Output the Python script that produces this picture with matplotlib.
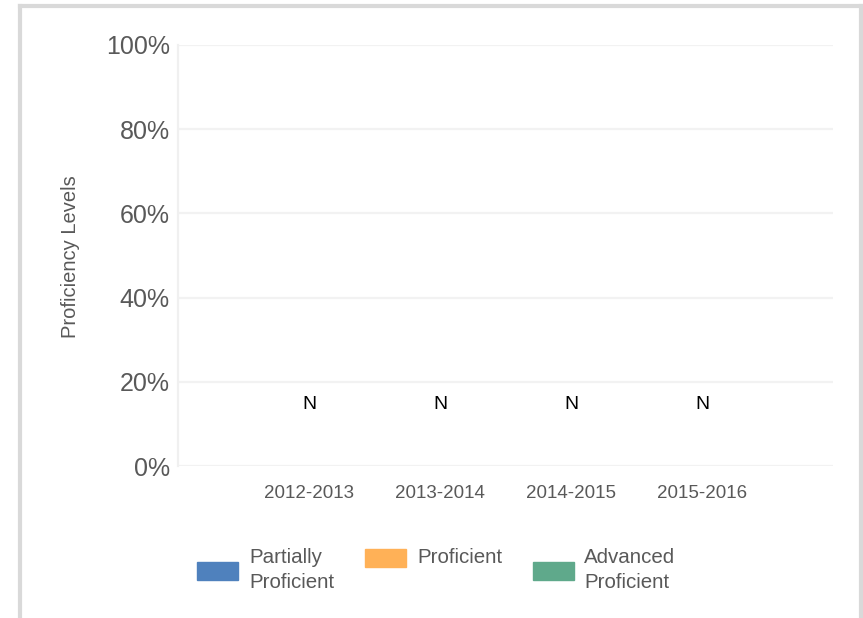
import numpy as np
import matplotlib.pyplot as plt
from matplotlib.lines import Line2D
from matplotlib.patches import Rectangle

plt.rcParams["font.family"] = ["Liberation Sans", "DejaVu Sans"]

years = ["2012-2013", "2013-2014", "2014-2015", "2015-2016"]
series = ["Partially\nProficient", "Proficient", "Advanced\nProficient"]
colors = ["#4f81bd", "#ffb157", "#5fa98b"]
# no reported results for any year -> empty stacks, flagged "N"
partially = [0, 0, 0, 0]
proficient = [0, 0, 0, 0]
advanced = [0, 0, 0, 0]
flags = ["N", "N", "N", "N"]
flag_level = 14.7

fig = plt.figure(figsize=(8.63, 6.18), dpi=100)
ax = fig.add_axes([178 / 863, 1 - 466 / 618, 655 / 863, 421 / 618])

x = np.arange(len(years))
bottom = np.zeros(len(years))
for vals, c in zip([partially, proficient, advanced], colors):
    ax.bar(x, vals, 0.6, bottom=bottom, color=c)
    bottom += np.array(vals)

for xi, f in zip(x, flags):
    ax.text(xi, flag_level, f, ha="center", va="center", fontsize=14, color="black")

ax.set_xlim(-1, 4)
ax.set_ylim(0, 100)
ax.set_yticks(range(0, 101, 20))
ax.set_yticklabels([f"{v}%" for v in range(0, 101, 20)], fontsize=18, color="#595959")
ax.set_xticks(x)
ax.set_xticklabels(years, fontsize=13.5, color="#595959")
ax.tick_params(axis="both", length=0)
ax.tick_params(axis="y", pad=6)
ax.tick_params(axis="x", pad=14)
ax.grid(axis="y", color="#f2f2f2", linewidth=1.6)
ax.set_axisbelow(True)
for s in ["top", "right", "bottom"]:
    ax.spines[s].set_visible(False)
ax.spines["left"].set_color("#f0f0f0")
ax.spines["left"].set_linewidth(1.6)
ax.set_ylabel("Proficiency Levels", fontsize=14.5, color="#595959", labelpad=0)
ax.yaxis.set_label_coords(80 / 863, 1 - 257 / 618, transform=fig.transFigure)

# legend row under the plot
W, H = 863, 618
entries = [(197, 571, 249), (365, 558, 417), (533, 571, 584)]
for (px, pcy, tx), name, c in zip(entries, series, colors):
    fig.patches.append(Rectangle((px / W, 1 - (pcy + 9) / H), 41 / W, 18 / H,
                                 transform=fig.transFigure, color=c))
    fig.text(tx / W, 1 - 548 / H, name, ha="left", va="top", fontsize=14.8,
             color="#595959", linespacing=1.38)

# outer frame (open at the bottom)
frame = dict(color="#d9d9d9", linewidth=3, transform=fig.transFigure)
fig.lines.append(Line2D([20 / W, 20 / W], [0, 1 - 6 / H], **frame))
fig.lines.append(Line2D([20 / W, 861 / W], [1 - 6 / H, 1 - 6 / H], **frame))
fig.lines.append(Line2D([861 / W, 861 / W], [0, 1 - 6 / H], **frame))

fig.savefig("out.png", dpi=100)
